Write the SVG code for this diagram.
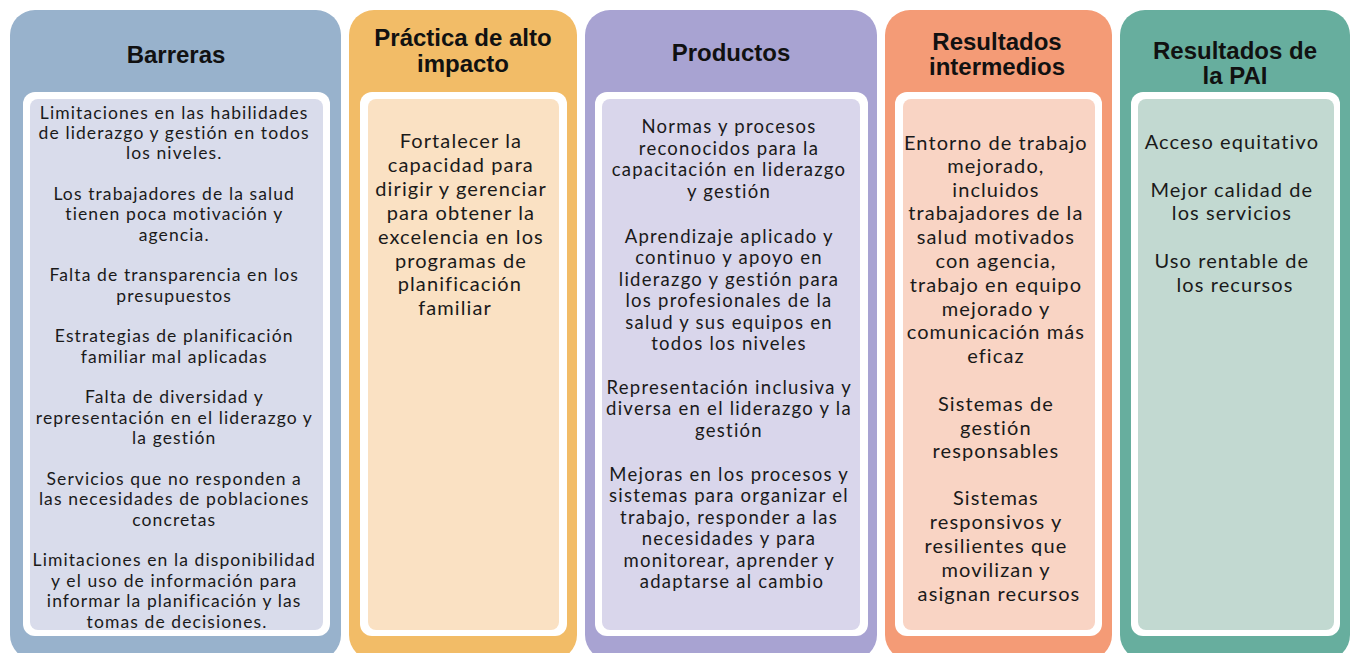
<svg xmlns="http://www.w3.org/2000/svg" width="1351" height="653" viewBox="0 0 1351 653">
<style>
.h{font-family:"Liberation Sans",Arial,sans-serif;font-weight:bold;font-size:24px;fill:#111;text-anchor:middle}
.t{font-family:Lato,"Liberation Sans",sans-serif;fill:#1a1a1a;text-anchor:middle}
.s{font-size:17.5px;letter-spacing:1.1px}
.m{font-size:18.5px;letter-spacing:1.25px}
.l{font-size:20px;letter-spacing:1.1px}
.w{fill:#fff}
</style>
<rect width="1351" height="653" fill="#fff"/>
<g id="barreras">
<rect x="10" y="10" width="331" height="650" rx="25" fill="#98B2CC"/>
<rect class="w" x="23" y="92" width="307" height="544" rx="12"/>
<rect x="30" y="99" width="293" height="531" rx="8" fill="#D9DCEB"/>
<text class="h" x="176" y="63">Barreras</text>
<text class="t s">
<tspan x="177" y="119">Limitaciones en las habilidades</tspan>
<tspan x="177" y="139">de liderazgo y gestión en todos</tspan>
<tspan x="177" y="159">los niveles.</tspan>
<tspan x="177" y="200">Los trabajadores de la salud</tspan>
<tspan x="177" y="220">tienen poca motivación y</tspan>
<tspan x="177" y="241">agencia.</tspan>
<tspan x="177" y="281">Falta de transparencia en los</tspan>
<tspan x="177" y="302">presupuestos</tspan>
<tspan x="177" y="342">Estrategias de planificación</tspan>
<tspan x="177" y="363">familiar mal aplicadas</tspan>
<tspan x="177" y="403">Falta de diversidad y</tspan>
<tspan x="177" y="424">representación en el liderazgo y</tspan>
<tspan x="177" y="444">la gestión</tspan>
<tspan x="177" y="485">Servicios que no responden a</tspan>
<tspan x="177" y="505">las necesidades de poblaciones</tspan>
<tspan x="177" y="526">concretas</tspan>
<tspan x="177" y="566">Limitaciones en la disponibilidad</tspan>
<tspan x="177" y="587">y el uso de información para</tspan>
<tspan x="177" y="607">informar la planificación y las</tspan>
<tspan x="177" y="628">tomas de decisiones.</tspan>
</text>
</g>
<g id="practica">
<rect x="349" y="10" width="228" height="650" rx="25" fill="#F2BC67"/>
<rect class="w" x="360" y="92" width="207" height="544" rx="12"/>
<rect x="368" y="99" width="191" height="531" rx="8" fill="#FAE1C3"/>
<text class="h"><tspan x="463" y="46">Práctica de alto</tspan><tspan x="463" y="72">impacto</tspan></text>
<text class="t l">
<tspan x="464" y="148">Fortalecer la</tspan>
<tspan x="464" y="172">capacidad para</tspan>
<tspan x="464" y="196">dirigir y gerenciar</tspan>
<tspan x="464" y="220">para obtener la</tspan>
<tspan x="464" y="244">excelencia en los</tspan>
<tspan x="464" y="268">programas de</tspan>
<tspan x="463" y="291">planificación</tspan>
<tspan x="455" y="315">familiar</tspan>
</text>
</g>
<g id="productos">
<rect x="585" y="10" width="292" height="650" rx="25" fill="#A8A3D2"/>
<rect class="w" x="595" y="92" width="273" height="544" rx="12"/>
<rect x="602" y="99" width="258" height="531" rx="8" fill="#D9D6EB"/>
<text class="h" x="731" y="61">Productos</text>
<text class="t m">
<tspan x="732" y="133">Normas y procesos</tspan>
<tspan x="732" y="155">reconocidos para la</tspan>
<tspan x="732" y="176">capacitación en liderazgo</tspan>
<tspan x="732" y="198">y gestión</tspan>
<tspan x="732" y="243">Aprendizaje aplicado y</tspan>
<tspan x="732" y="264">continuo y apoyo en</tspan>
<tspan x="732" y="286">liderazgo y gestión para</tspan>
<tspan x="732" y="307">los profesionales de la</tspan>
<tspan x="732" y="329">salud y sus equipos en</tspan>
<tspan x="732" y="350">todos los niveles</tspan>
<tspan x="732" y="394">Representación inclusiva y</tspan>
<tspan x="732" y="415">diversa en el liderazgo y la</tspan>
<tspan x="732" y="437">gestión</tspan>
<tspan x="732" y="481">Mejoras en los procesos y</tspan>
<tspan x="732" y="502">sistemas para organizar el</tspan>
<tspan x="732" y="524">trabajo, responder a las</tspan>
<tspan x="732" y="545">necesidades y para</tspan>
<tspan x="732" y="567">monitorear, aprender y</tspan>
<tspan x="732" y="588">adaptarse al cambio</tspan>
</text>
</g>
<g id="intermedios">
<rect x="885" y="10" width="227" height="650" rx="25" fill="#F49B76"/>
<rect class="w" x="895" y="92" width="207" height="544" rx="12"/>
<rect x="903" y="99" width="192" height="531" rx="8" fill="#F9D4C4"/>
<text class="h"><tspan x="997" y="50">Resultados</tspan><tspan x="997" y="75">intermedios</tspan></text>
<text class="t l">
<tspan x="999" y="150">Entorno de trabajo</tspan>
<tspan x="999" y="173">mejorado,</tspan>
<tspan x="999" y="197">incluidos</tspan>
<tspan x="999" y="220">trabajadores de la</tspan>
<tspan x="999" y="244">salud motivados</tspan>
<tspan x="999" y="268">con agencia,</tspan>
<tspan x="999" y="292">trabajo en equipo</tspan>
<tspan x="999" y="316">mejorado y</tspan>
<tspan x="999" y="339">comunicación más</tspan>
<tspan x="999" y="363">eficaz</tspan>
<tspan x="999" y="411">Sistemas de</tspan>
<tspan x="999" y="435">gestión</tspan>
<tspan x="999" y="458">responsables</tspan>
<tspan x="999" y="505">Sistemas</tspan>
<tspan x="999" y="529">responsivos y</tspan>
<tspan x="999" y="553">resilientes que</tspan>
<tspan x="999" y="577">movilizan y</tspan>
<tspan x="999" y="601">asignan recursos</tspan>
</text>
</g>
<g id="pai">
<rect x="1120" y="10" width="230" height="650" rx="25" fill="#67AE9E"/>
<rect class="w" x="1131" y="92" width="209" height="544" rx="12"/>
<rect x="1138" y="99" width="196" height="531" rx="8" fill="#C2D9D1"/>
<text class="h"><tspan x="1235" y="59">Resultados de</tspan><tspan x="1235" y="84">la PAI</tspan></text>
<text class="t l">
<tspan x="1235" y="149">Acceso equitativo</tspan>
<tspan x="1235" y="197">Mejor calidad de</tspan>
<tspan x="1235" y="220">los servicios</tspan>
<tspan x="1235" y="268">Uso rentable de</tspan>
<tspan x="1235" y="292">los recursos</tspan>
</text>
</g>
</svg>
